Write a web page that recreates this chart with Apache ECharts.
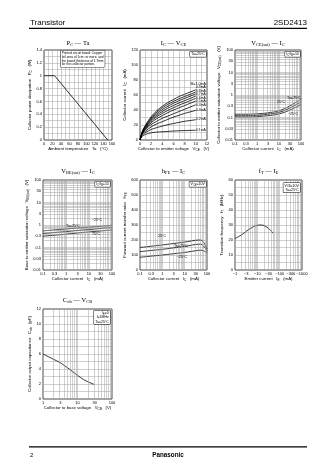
<!DOCTYPE html>
<html><head><meta charset="utf-8">
<script src="https://cdn.jsdelivr.net/npm/echarts@6/dist/echarts.min.js"></script>
<style>html,body{margin:0;padding:0;background:#fff}#c{width:336px;height:474px}</style>
</head><body><div id="c"></div><script>
// ---------------- DATA ----------------
// P_C - Ta
const pcTa_ta = [0, 25, 150];
const pcTa_pc = [1.0, 1.0, 0];
// I_C - V_CE (Ta=25°C), curves for I_B
const icVce_vce = [0, 0.2, 0.5, 1, 2, 3, 4, 5, 6, 7, 8, 9, 10];
const icVce_ibLabels = ['1.0mA', '0.9mA', '0.8mA', '0.7mA', '0.6mA', '0.5mA', '0.4mA', '0.3mA', '0.2mA', '0.1mA'];
const icVce_ib10 = [0, 6, 13, 20, 31, 39, 45, 50, 54, 58, 61, 64, 67];
const icVce_ib09 = [0, 6, 12.5, 19, 29.5, 37, 43, 47.5, 51.5, 55, 58, 61, 64];
const icVce_ib08 = [0, 6, 12, 18, 28, 35, 40.5, 45, 49, 52.5, 55.5, 58.5, 61.5];
const icVce_ib07 = [0, 5.5, 11.5, 17, 26.5, 33, 38, 42.5, 46, 49.5, 52.5, 55.5, 58.5];
const icVce_ib06 = [0, 5.5, 11, 16, 25, 31, 35.5, 39.5, 43, 46.5, 49.5, 52.5, 55.5];
const icVce_ib05 = [0, 5, 10.5, 15, 23, 28.5, 32.5, 36.5, 40, 43, 46, 49, 52];
const icVce_ib04 = [0, 5, 10, 14, 20.5, 25, 29, 32, 35, 38, 41, 44, 47];
const icVce_ib03 = [0, 4.5, 9, 12, 17.5, 21.5, 24.5, 27.5, 30.5, 33, 35.5, 37.5, 39.5];
const icVce_ib02 = [0, 4, 7.5, 10, 14, 16.5, 18.5, 20.5, 22, 23.5, 25, 26, 27];
const icVce_ib01 = [0, 3, 5.5, 7.5, 9.5, 10.5, 11, 11.5, 12, 12.3, 12.6, 12.8, 13];
// V_CE(sat) - I_C (IC/IB=10)
const vcesat_ic = [0.1, 0.3, 1, 3, 10, 30, 100];
const vcesat_t75 = [0.14, 0.14, 0.145, 0.16, 0.2, 0.32, 0.66];
const vcesat_t25 = [0.12, 0.12, 0.125, 0.14, 0.17, 0.26, 0.5];
const vcesat_tm25 = [0.105, 0.105, 0.11, 0.12, 0.145, 0.21, 0.38];
// V_BE(sat) - I_C (IC/IB=10)
const vbesat_ic = [0.1, 0.3, 1, 3, 10, 30, 100];
const vbesat_tm25 = [0.55, 0.6, 0.665, 0.73, 0.8, 0.88, 0.97];
const vbesat_t25 = [0.42, 0.46, 0.51, 0.57, 0.63, 0.7, 0.78];
const vbesat_t75 = [0.32, 0.35, 0.39, 0.44, 0.49, 0.54, 0.6];
// hFE - I_C (VCE=10V)
const hfe_ic = [0.1, 0.3, 1, 3, 10, 30, 50, 70, 100];
const hfe_t75 = [150, 158, 167, 176, 186, 198, 200, 185, 140];
const hfe_t25 = [122, 130, 138, 147, 157, 170, 172, 160, 130];
const hfe_tm25 = [85, 92, 100, 108, 117, 128, 132, 128, 115];
// fT - I_E (VCB=10V, Ta=25°C), |I_E| in mA
const ft_ie = [1, 2, 3, 5, 10, 15, 20, 30, 40, 50];
const ft_mhz = [21, 23.5, 25.5, 27.8, 29.8, 30, 29.6, 28, 26.3, 24.5];
// Cob - V_CB (IE=0, f=1MHz, Ta=25°C)
const cob_vcb = [1, 2, 3, 5, 7, 10, 15, 20, 25, 30];
const cob_pf = [6.0, 5.3, 4.9, 4.2, 3.7, 3.15, 2.6, 2.3, 2.1, 1.95];
// grid mantissas for log axes
const logMantissas = [1, 2, 3, 4, 5, 6, 7, 8, 9];

// ---------------- STYLE / LAYOUT ----------------
const FONT = '"Liberation Sans", Arial, sans-serif';
const SERIF = '"Liberation Serif", "Times New Roman", serif';
const GC = '#a0a0a0';
const layout = [
  {left: 44, top: 50, width: 68, height: 90},
  {left: 140, top: 50, width: 67, height: 90},
  {left: 235, top: 50, width: 66, height: 90},
  {left: 43, top: 180, width: 69, height: 90},
  {left: 140, top: 180, width: 67, height: 90},
  {left: 235, top: 180, width: 67, height: 90},
  {left: 43, top: 309, width: 69, height: 90}
];
const nameRich = {
  n: {fontSize: 4.3, fontFamily: FONT, color: '#000'},
  s: {fontSize: 3.2, fontFamily: FONT, color: '#000', verticalAlign: 'bottom', padding: [2, 0, 0, 0]}
};
function logLines(min, max) {
  const out = [];
  for (let e = Math.floor(Math.log10(min)); e <= Math.ceil(Math.log10(max)); e++) {
    logMantissas.forEach(m => {
      const v = +(m * Math.pow(10, e)).toPrecision(6);
      if (v > min * 1.0001 && v < max * 0.9999) out.push(v);
    });
  }
  return out;
}
function baseAxis(gi, name, gap, isY) {
  return {
    gridIndex: gi, name: name, nameLocation: 'middle', nameGap: gap, nameRotate: isY ? 90 : 0,
    nameTextStyle: {fontSize: 4.3, fontFamily: FONT, color: '#000', rich: nameRich},
    axisLine: {show: false}, axisTick: {show: false},
    axisLabel: {fontSize: 4, fontFamily: FONT, color: '#000', margin: isY ? 2 : 1.5, showMinLabel: true, showMaxLabel: true, hideOverlap: false}
  };
}
function linAxis(gi, min, max, interval, name, gap, isY) {
  return Object.assign(baseAxis(gi, name, gap, isY), {
    type: 'value', min: min, max: max, interval: interval,
    splitLine: {show: true, lineStyle: {color: GC, width: 0.5}},
    minorTick: {show: false, splitNumber: 2},
    minorSplitLine: {show: true, lineStyle: {color: GC, width: 0.5}}
  });
}
function logAxis(gi, min, max, name, gap, isY, neg) {
  const a = Object.assign(baseAxis(gi, name, gap, isY), {
    type: 'log', logBase: Math.sqrt(10), min: min, max: max,
    splitLine: {show: false}
  });
  a.axisLabel.formatter = v => (neg ? '\u2212' : '') + String(Number((+v).toPrecision(1)));
  return a;
}
function curve(gi, xs, ys, smooth) {
  return {
    type: 'line', xAxisIndex: gi, yAxisIndex: gi, data: xs.map((x, i) => [x, ys[i]]),
    symbol: 'none', showSymbol: false, smooth: smooth, z: 3, silent: true, animation: false,
    lineStyle: {color: '#000', width: 0.8}
  };
}
function gridHelper(gi, x0, y0, xs, ys) {
  return {
    type: 'line', xAxisIndex: gi, yAxisIndex: gi, data: [[x0, y0]], symbol: 'none',
    lineStyle: {opacity: 0}, z: 1, silent: true, animation: false,
    markLine: {
      silent: true, symbol: ['none', 'none'], label: {show: false}, animation: false,
      lineStyle: {color: GC, width: 0.5, type: 'solid'}, emphasis: {disabled: true},
      data: xs.map(v => ({xAxis: v})).concat(ys.map(v => ({yAxis: v})))
    }
  };
}
const sub = (a, b, c) => '{n|' + a + '}{s|' + b + '}' + (c ? '{n|' + c + '}' : '');

const xAxes = [
  linAxis(0, 0, 160, 20, '{n|Ambient temperature   Ta   (°C)}', 6.5, false),
  linAxis(1, 0, 12, 2, '{n|Collector to emitter voltage   V}{s|CE}{n|   (V)}', 6.5, false),
  logAxis(2, 0.1, 100, '{n|Collector current   I}{s|C}{n|   (mA)}', 6.5, false, false),
  logAxis(3, 0.1, 100, '{n|Collector current   I}{s|C}{n|   (mA)}', 6.5, false, false),
  logAxis(4, 0.1, 100, '{n|Collector current   I}{s|C}{n|   (mA)}', 6.5, false, false),
  logAxis(5, 1, 1000, '{n|Emitter current   I}{s|E}{n|   (mA)}', 6.5, false, true),
  logAxis(6, 1, 100, '{n|Collector to base voltage   V}{s|CB}{n|   (V)}', 6.5, false, false)
];
const yAxes = [
  linAxis(0, 0, 1.4, 0.2, '{n|Collector power dissipation   P}{s|C}{n|   (W)}', 8, true),
  linAxis(1, 0, 120, 20, '{n|Collector current   I}{s|C}{n|   (mA)}', 8, true),
  logAxis(2, 0.01, 100, '{n|Collector to emitter saturation voltage   V}{s|CE(sat)}{n|   (V)}', 9, true, false),
  logAxis(3, 0.01, 100, '{n|Base to emitter saturation voltage   V}{s|BE(sat)}{n|   (V)}', 9, true, false),
  linAxis(4, 0, 600, 100, '{n|Forward current transfer ratio   h}{s|FE}', 8, true),
  linAxis(5, 0, 60, 10, '{n|Transition frequency   f}{s|T}{n|   (MHz)}', 7, true),
  linAxis(6, 0, 12, 2, '{n|Collector output capacitance   C}{s|ob}{n|   (pF)}', 7, true)
];

const series = [
  curve(0, pcTa_ta, pcTa_pc, false),
  curve(1, icVce_vce, icVce_ib10, 0.4), curve(1, icVce_vce, icVce_ib09, 0.4),
  curve(1, icVce_vce, icVce_ib08, 0.4), curve(1, icVce_vce, icVce_ib07, 0.4),
  curve(1, icVce_vce, icVce_ib06, 0.4), curve(1, icVce_vce, icVce_ib05, 0.4),
  curve(1, icVce_vce, icVce_ib04, 0.4), curve(1, icVce_vce, icVce_ib03, 0.4),
  curve(1, icVce_vce, icVce_ib02, 0.4), curve(1, icVce_vce, icVce_ib01, 0.4),
  gridHelper(2, 0.1, 0.01, logLines(0.1, 100), logLines(0.01, 100)),
  curve(2, vcesat_ic, vcesat_t75, 0.4), curve(2, vcesat_ic, vcesat_t25, 0.4), curve(2, vcesat_ic, vcesat_tm25, 0.4),
  gridHelper(3, 0.1, 0.01, logLines(0.1, 100), logLines(0.01, 100)),
  curve(3, vbesat_ic, vbesat_tm25, 0.3), curve(3, vbesat_ic, vbesat_t25, 0.3), curve(3, vbesat_ic, vbesat_t75, 0.3),
  gridHelper(4, 0.1, 0, logLines(0.1, 100), []),
  curve(4, hfe_ic, hfe_t75, 0.4), curve(4, hfe_ic, hfe_t25, 0.4), curve(4, hfe_ic, hfe_tm25, 0.4),
  gridHelper(5, 1, 0, logLines(1, 1000), []),
  curve(5, ft_ie, ft_mhz, 0.4),
  gridHelper(6, 1, 0, logLines(1, 100), []),
  curve(6, cob_vcb, cob_pf, 0.4)
];

function T(x, y, text, size, opts) {
  return Object.assign({type: 'text', x: x, y: y, z: 100, silent: true,
    style: Object.assign({text: text, fontSize: size, fontFamily: FONT, fill: '#000', align: 'left', verticalAlign: 'middle'}, (opts && opts.style) || {})},
    (opts && opts.el) || {});
}
function box(x, y, text, size, align) {
  return {type: 'text', x: x, y: y, z: 100, silent: true, style: {
    text: text, fontSize: size, fontFamily: FONT, fill: '#000', align: align || 'left', verticalAlign: 'top',
    lineHeight: size + 0.6, backgroundColor: '#fff', borderColor: '#000', borderWidth: 0.5, padding: [0.8, 1.2, 0.4, 1.2],
    rich: {n: {fontSize: size, fontFamily: FONT}, s: {fontSize: size * 0.75, fontFamily: FONT, verticalAlign: 'bottom'}}
  }};
}
const titleRich = {
  n: {fontSize: 6.5, fontFamily: SERIF, fill: '#000'},
  s: {fontSize: 4.5, fontFamily: SERIF, fill: '#000', verticalAlign: 'bottom', padding: [3, 0, 0, 0]}
};
function title(cx, cy, text) {
  return {type: 'text', x: cx, y: cy, z: 100, silent: true, style: {text: text, align: 'center', verticalAlign: 'middle', fill: '#000', rich: titleRich, fontSize: 6.5, fontFamily: SERIF}};
}
const smallRich = {n: {fontSize: 3.6, fontFamily: FONT}, s: {fontSize: 2.8, fontFamily: FONT, verticalAlign: 'bottom'}};
function lab(x, y, text, size) {
  return {type: 'text', x: x, y: y, z: 100, silent: true, style: {text: text, fontSize: size || 3.6, fontFamily: FONT, fill: '#000', align: 'left', verticalAlign: 'middle', rich: smallRich}};
}

const ibLabelY = [83.5, 87.5, 91, 94.3, 97.6, 101, 105.2, 110, 119.3, 130.5];
const graphics = [
  // header / footer
  {type: 'text', x: 30, y: 22.5, style: {text: 'Transistor', fontSize: 8, fontFamily: FONT, fill: '#000', verticalAlign: 'middle'}},
  {type: 'text', x: 307, y: 22.5, style: {text: '2SD2413', fontSize: 8, fontFamily: FONT, fill: '#000', align: 'right', verticalAlign: 'middle'}},
  {type: 'line', shape: {x1: 29, y1: 28.3, x2: 307, y2: 28.3}, style: {stroke: '#000', lineWidth: 1.3}},
  {type: 'line', shape: {x1: 29, y1: 446.8, x2: 307, y2: 446.8}, style: {stroke: '#000', lineWidth: 1.3}},
  {type: 'text', x: 30, y: 455, style: {text: '2', fontSize: 6, fontFamily: FONT, fill: '#000', verticalAlign: 'middle'}},
  {type: 'text', x: 168, y: 455, style: {text: 'Panasonic', fontSize: 6.3, fontWeight: 'bold', fontFamily: FONT, fill: '#000', align: 'center', verticalAlign: 'middle'}},
  // titles
  title(78, 43.5, sub('P', 'C', ' \u2014 Ta')),
  title(173.5, 43.5, '{n|I}{s|C}{n| \u2014 V}{s|CE}'),
  title(268, 43.5, '{n|V}{s|CE(sat)}{n| \u2014 I}{s|C}'),
  title(78, 171, '{n|V}{s|BE(sat)}{n| \u2014 I}{s|C}'),
  title(173.5, 171, '{n|h}{s|FE}{n| \u2014 I}{s|C}'),
  title(268.5, 171, '{n|f}{s|T}{n| \u2014 I}{s|E}'),
  title(77.5, 300, '{n|C}{s|ob}{n| \u2014 V}{s|CB}'),
  // info boxes
  box(60.5, 50.5, 'Printed circuit board: Copper\nfoil area of 1cm\u00b2 or more, and\nthe board thickness of 1.7mm\nfor the collector portion.', 3.2),
  box(206, 51.5, 'Ta=25\u00b0C', 3.5, 'right'),
  box(300, 51.5, '{n|I}{s|C}{n|/I}{s|B}{n|=10}', 3.5, 'right'),
  box(110, 181.5, '{n|I}{s|C}{n|/I}{s|B}{n|=10}', 3.5, 'right'),
  box(206, 181.5, '{n|V}{s|CE}{n|=10V}', 3.5, 'right'),
  box(300, 183, '{n|V}{s|CB}{n|=10V}\n{n|Ta=25\u00b0C}', 3.5, 'right'),
  box(110, 310.5, '{n|I}{s|E}{n|=0}\n{n|f=1MHz}\n{n|Ta=25\u00b0C}', 3.5, 'right'),
  // curve labels
  lab(287, 97.5, 'Ta=75\u00b0C'), lab(277, 102, '25\u00b0C'), lab(288, 113.5, '\u221225\u00b0C'),
  lab(66, 225.5, 'Ta=25\u00b0C'), lab(92, 219.5, '\u221225\u00b0C'), lab(92, 234, '75\u00b0C'),
  lab(158, 236, '25\u00b0C'), lab(174, 245.5, 'Ta=75\u00b0C'), lab(177, 257, '\u221225\u00b0C')
];
icVce_ibLabels.forEach((t, i) => {
  graphics.push(lab(i === 0 ? 190.5 : 196, ibLabelY[i], i === 0 ? '{n|I}{s|B}{n|=' + t + '}' : t, 3.4));
});

const chart = echarts.init(document.getElementById('c'), null, {renderer: 'canvas'});
chart.setOption({
  animation: false,
  backgroundColor: '#fff',
  grid: layout.map(g => Object.assign({show: true, borderColor: '#000', borderWidth: 0.7, containLabel: false}, g)),
  xAxis: xAxes,
  yAxis: yAxes,
  series: series,
  graphic: graphics
});
</script></body></html>
